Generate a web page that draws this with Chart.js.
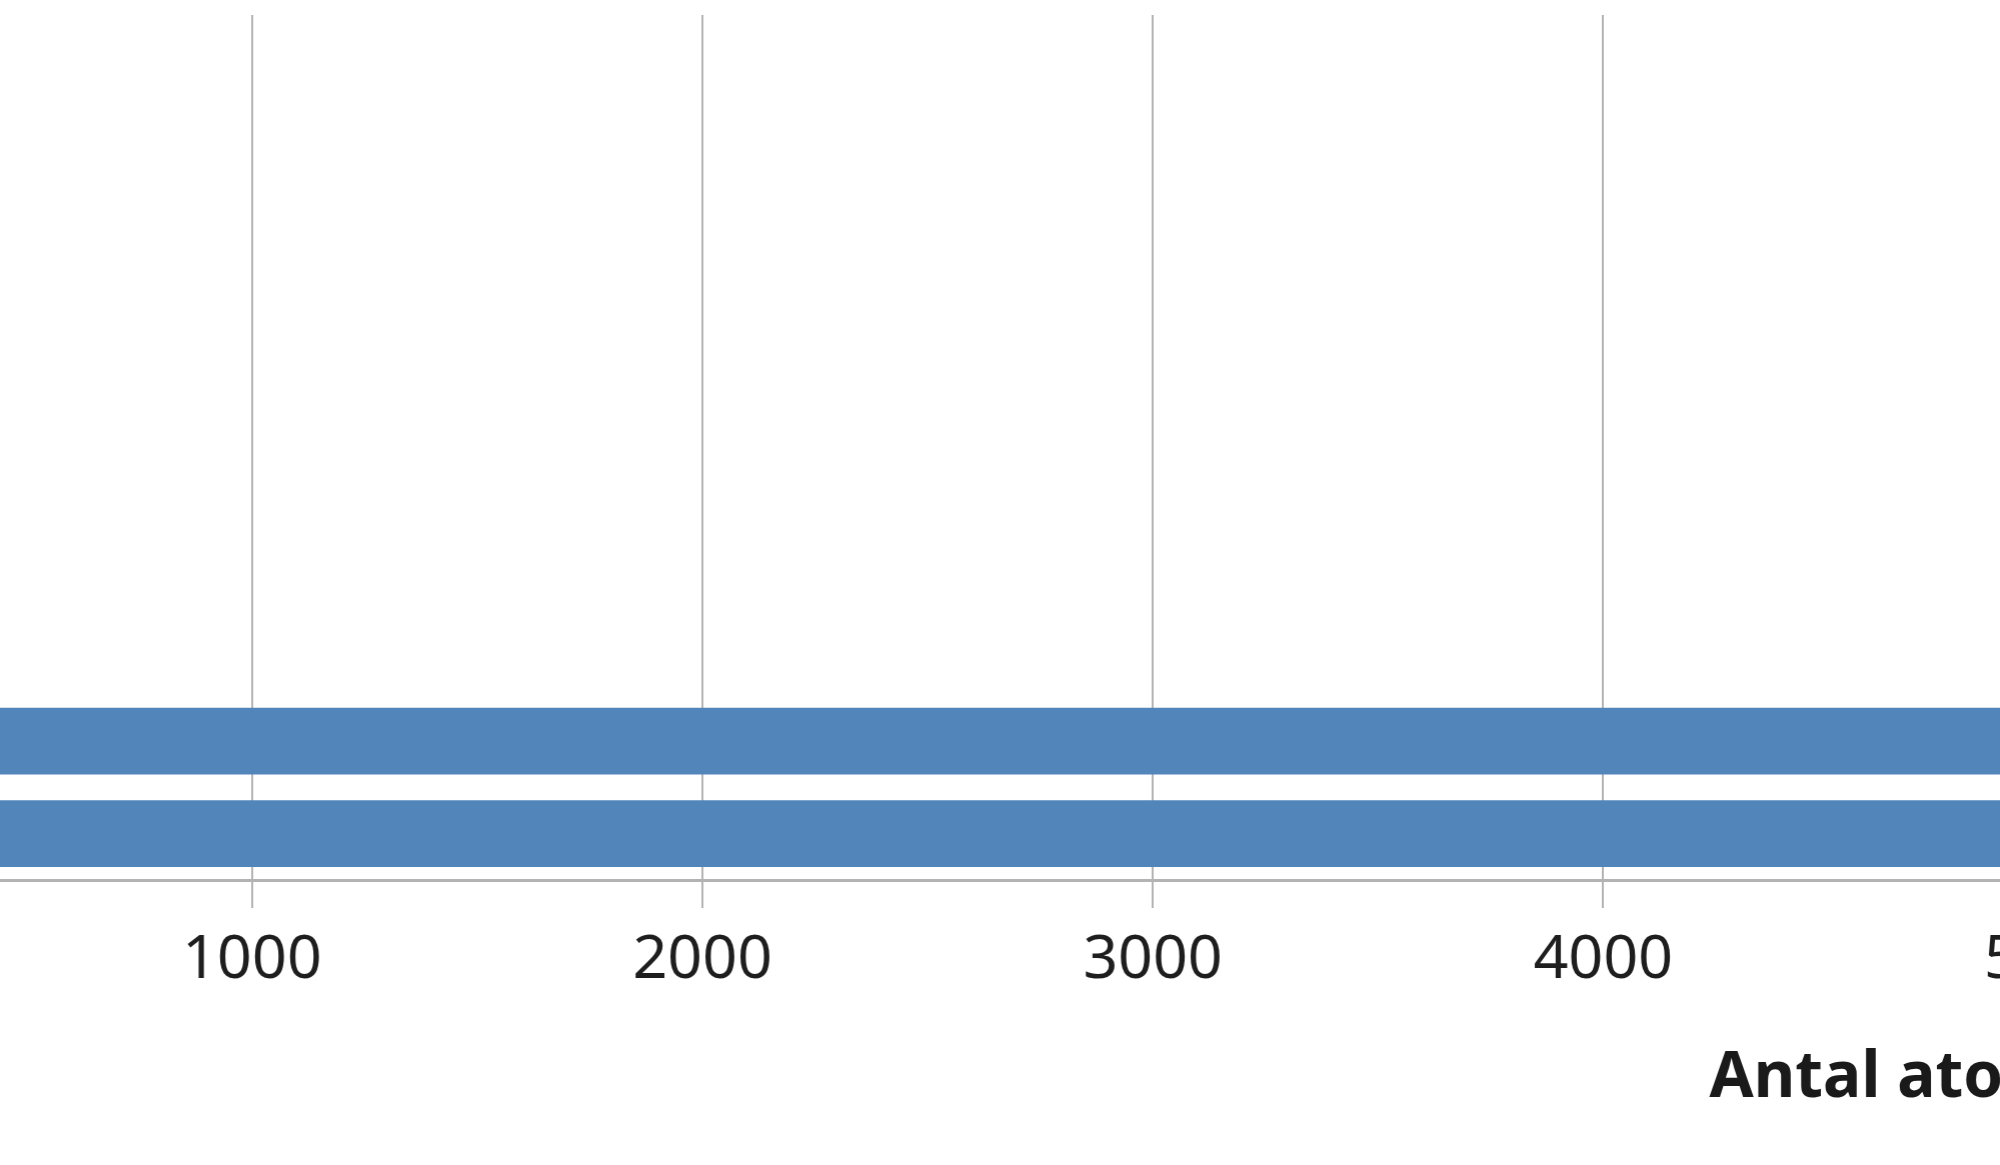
<!DOCTYPE html>
<html>
<head>
<meta charset="utf-8">
<script src="https://cdn.jsdelivr.net/npm/chart.js@4.4.1/dist/chart.umd.min.js"></script>
<style>
  html, body { margin: 0; padding: 0; background: #fff; overflow: hidden; }
  body { width: 2000px; height: 1165px; position: relative; }
  /* the picture is a crop of a wider chart, so the canvas runs past the window */
  #wrap { position: absolute; left: -400px; top: 0; width: 2631.5px; height: 1165px; }
</style>
</head>
<body>
<div id="wrap"><canvas id="atomChart"></canvas></div>
<script>
// categories listed bottom to top; only the two lowest bars reach into view
const categories = ["A", "B", "C", "D", "E", "F", "G", "H", "I"];
const atomCounts = [5150, 5160, 120, 90, 60, 40, 30, 20, 10];
const xTicks = [0, 1000, 2000, 3000, 4000, 5000];
const axisTitle = "Antal atomer";

const points = atomCounts.map((v, i) => ({ x: v, y: i + 0.5 }));

new Chart(document.getElementById("atomChart"), {
    type: "bar",
    data: {
        labels: categories,
        datasets: [
            {
                label: axisTitle,
                data: points,
                backgroundColor: "#5286bb",
                borderWidth: 0,
                barThickness: 66,
            },
        ],
    },
    options: {
        indexAxis: "y",
        responsive: true,
        maintainAspectRatio: false,
        animation: false,
        layout: { padding: { left: 201.5, right: 100, top: 15, bottom: 44 } },
        plugins: {
            legend: { display: false },
            tooltip: { enabled: false },
        },
        scales: {
            y: {
                type: "linear",
                min: 0,
                max: 9.34,
                offset: false,
                grid: { offset: false },
                display: false,
            },
            x: {
                type: "linear",
                position: "bottom",
                min: 0,
                max: 5175,
                afterBuildTicks: (axis) => {
                    axis.ticks = xTicks.map((v) => ({ value: v }));
                },
                ticks: {
                    includeBounds: false,
                    padding: 16,
                    color: "#1e1e1e",
                    font: { family: "'Noto Sans', sans-serif", size: 61 },
                    maxRotation: 0,
                    autoSkip: false,
                    callback: (v) => String(v),
                },
                grid: {
                    color: "#b3b3b3",
                    lineWidth: 2,
                    tickLength: 28,
                    drawTicks: true,
                },
                border: { color: "#b3b3b3", width: 3 },
                title: {
                    display: true,
                    text: axisTitle,
                    align: "end",
                    color: "#1a1a1a",
                    font: { family: "'Noto Sans', sans-serif", size: 64, weight: "bold" },
                    padding: { top: 27, bottom: 4 },
                },
            },
        },
    },
});
</script>
</body>
</html>
